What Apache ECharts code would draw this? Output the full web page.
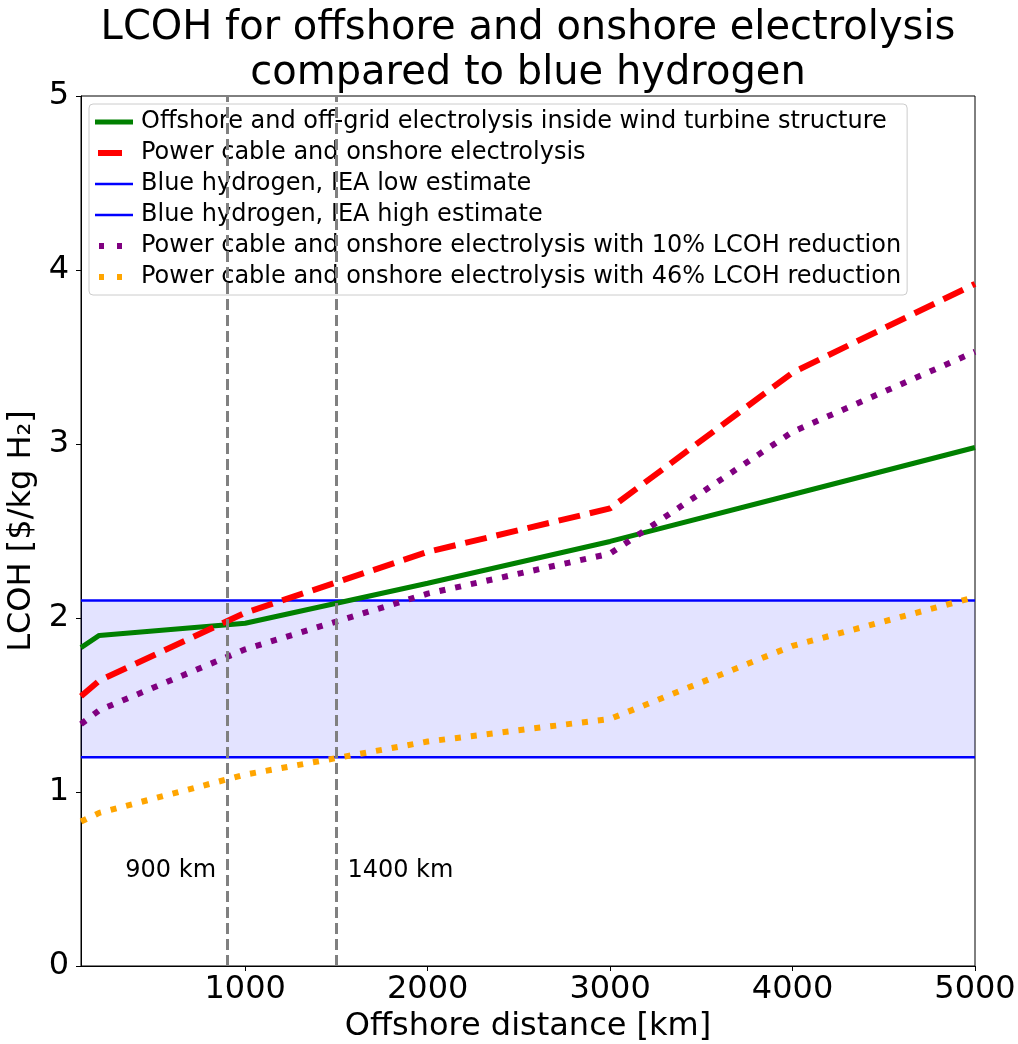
<!DOCTYPE html>
<html>
<head>
<meta charset="utf-8">
<title>LCOH offshore vs onshore electrolysis</title>
<script src="https://cdn.jsdelivr.net/npm/echarts@6/dist/echarts.min.js"></script>
<style>
  html, body { margin: 0; padding: 0; background: #ffffff; }
  #chart { width: 1018px; height: 1044px; }
</style>
</head>
<body>
<div id="chart"></div>
<script>
// Offshore distance [km] at which each cost case was evaluated
const distanceKm = [100, 200, 1000, 2000, 3000, 4000, 5000];

// LCOH [$/kg H2] for each case
const offshoreInTurbine = [1.83, 1.90, 1.97, 2.20, 2.44, 2.71, 2.98];
const cableOnshore      = [1.55, 1.64, 2.03, 2.38, 2.63, 3.41, 3.92];
const cableOnshore10    = [1.39, 1.47, 1.82, 2.14, 2.37, 3.07, 3.53];
const cableOnshore46    = [0.83, 0.88, 1.10, 1.29, 1.42, 1.84, 2.12];

// IEA blue hydrogen cost range [$/kg H2]
const blueLow = 1.2;
const blueHigh = 2.1;

// Break-even distances marked with vertical lines
const breakEvenKm = [900, 1500];
const breakEvenLabels = [
  { x: 840, y: 0.545, text: '900 km', side: 'left' },
  { x: 1560, y: 0.545, text: '1400 km', side: 'right' }
];

const xTicks = [1000, 2000, 3000, 4000, 5000];
const xRange = [100, 5000];
const yRange = [0, 5];

const seriesNames = [
  'Offshore and off-grid electrolysis inside wind turbine structure',
  'Power cable and onshore electrolysis',
  'Blue hydrogen, IEA low estimate',
  'Blue hydrogen, IEA high estimate',
  'Power cable and onshore electrolysis with 10% LCOH reduction',
  'Power cable and onshore electrolysis with 46% LCOH reduction'
];

const FONT = 'DejaVu Sans';
const pair = (xs, ys) => xs.map((x, i) => [x, ys[i]]);
const flat = (v) => xRange.map((x) => [x, v]);

// short dash patterns for the legend keys
const dottedKey = { type: [5, 13], dashOffset: 14 };
const legendItems = seriesNames.map((name, i) => {
  if (i === 1) return { name, lineStyle: { type: [24, 14], dashOffset: 35 } };
  if (i === 4 || i === 5) return { name, lineStyle: dottedKey };
  return { name };
});

const chart = echarts.init(document.getElementById('chart'), null, { renderer: 'canvas' });

const option = {
  animation: false,
  backgroundColor: '#ffffff',
  textStyle: { fontFamily: FONT, color: '#000' },
  title: {
    text: 'LCOH for offshore and onshore electrolysis\ncompared to blue hydrogen',
    left: 523,
    top: 1,
    textAlign: 'center',
    textStyle: { fontFamily: FONT, fontSize: 40, fontWeight: 'normal', color: '#000', lineHeight: 45 }
  },
  grid: {
    left: 81, right: 43, top: 96, bottom: 78,
    show: true, borderColor: '#000', borderWidth: 1,
    outerBoundsMode: 'none', containLabel: false
  },
  legend: {
    orient: 'vertical',
    left: 89, top: 104,
    data: legendItems,
    itemWidth: 38, itemHeight: 14,
    itemGap: 7,
    padding: [6, 6, 6, 3],
    backgroundColor: 'rgba(255,255,255,0.8)',
    borderColor: '#cccccc', borderWidth: 1, borderRadius: 4,
    itemStyle: { opacity: 0 },
    lineStyle: { width: 'inherit' },
    textStyle: { fontFamily: FONT, fontSize: 24, color: '#000', padding: [0, 0, 0, 3] }
  },
  xAxis: {
    type: 'value',
    min: xRange[0], max: xRange[1],
    name: 'Offshore distance [km]',
    nameLocation: 'middle', nameGap: 44,
    nameTextStyle: { fontFamily: FONT, fontSize: 32, color: '#000' },
    axisLine: { show: true, lineStyle: { color: '#000', width: 1 } },
    axisTick: { show: true, length: 5, lineStyle: { color: '#000' }, customValues: xTicks },
    axisLabel: {
      fontFamily: FONT, fontSize: 32, color: '#000', margin: 8, customValues: xTicks,
      formatter: (v) => String(v)
    },
    splitLine: { show: false }
  },
  yAxis: {
    type: 'value',
    min: yRange[0], max: yRange[1], interval: 1,
    name: 'LCOH [$/kg H\u2082]',
    nameLocation: 'middle', nameGap: 38, nameRotate: 90,
    nameTextStyle: { fontFamily: FONT, fontSize: 32, color: '#000' },
    axisLine: { show: true, lineStyle: { color: '#000', width: 1 } },
    axisTick: { show: true, length: 5, lineStyle: { color: '#000' } },
    axisLabel: { fontFamily: FONT, fontSize: 32, color: '#000', margin: 12 },
    splitLine: { show: false }
  },
  series: [
    {
      // vertical break-even markers and their captions
      name: 'markers',
      type: 'scatter',
      z: 1,
      symbolSize: 0,
      silent: true,
      itemStyle: { opacity: 1 },
      data: breakEvenLabels.map((d) => ({
        value: [d.x, d.y],
        label: {
          show: true, position: d.side, distance: 0, formatter: d.text,
          fontFamily: FONT, fontSize: 24, color: '#000000', opacity: 1, textBorderWidth: 0
        }
      })),
      markLine: {
        silent: true, symbol: 'none', label: { show: false },
        lineStyle: { color: '#808080', width: 3, type: [11, 5] },
        data: breakEvenKm.map((x) => ({ xAxis: x }))
      }
    },
    {
      name: seriesNames[2],
      type: 'line', z: 3, showSymbol: false, symbol: 'none',
      data: flat(blueLow),
      lineStyle: { color: '#0000ff', width: 2.5 },
      itemStyle: { color: '#0000ff' },
      markArea: {
        silent: true,
        itemStyle: { color: 'rgba(0,0,255,0.11)' },
        data: [[{ yAxis: blueLow }, { yAxis: blueHigh }]]
      }
    },
    {
      name: seriesNames[3],
      type: 'line', z: 3, showSymbol: false, symbol: 'none',
      data: flat(blueHigh),
      lineStyle: { color: '#0000ff', width: 2.5 },
      itemStyle: { color: '#0000ff' }
    },
    {
      name: seriesNames[0],
      type: 'line', z: 4, showSymbol: false, symbol: 'none',
      data: pair(distanceKm, offshoreInTurbine),
      lineStyle: { color: '#008000', width: 5 },
      itemStyle: { color: '#008000' }
    },
    {
      name: seriesNames[1],
      type: 'line', z: 4, showSymbol: false, symbol: 'none',
      data: pair(distanceKm, cableOnshore),
      lineStyle: { color: '#ff0000', width: 6, type: [22, 10] },
      itemStyle: { color: '#ff0000' }
    },
    {
      name: seriesNames[4],
      type: 'line', z: 4, showSymbol: false, symbol: 'none',
      data: pair(distanceKm, cableOnshore10),
      lineStyle: { color: '#800080', width: 6, type: [6, 10] },
      itemStyle: { color: '#800080' }
    },
    {
      name: seriesNames[5],
      type: 'line', z: 4, showSymbol: false, symbol: 'none',
      data: pair(distanceKm, cableOnshore46),
      lineStyle: { color: '#ffa500', width: 6, type: [6, 10] },
      itemStyle: { color: '#ffa500' }
    }
  ]
};

chart.setOption(option);
</script>
</body>
</html>
